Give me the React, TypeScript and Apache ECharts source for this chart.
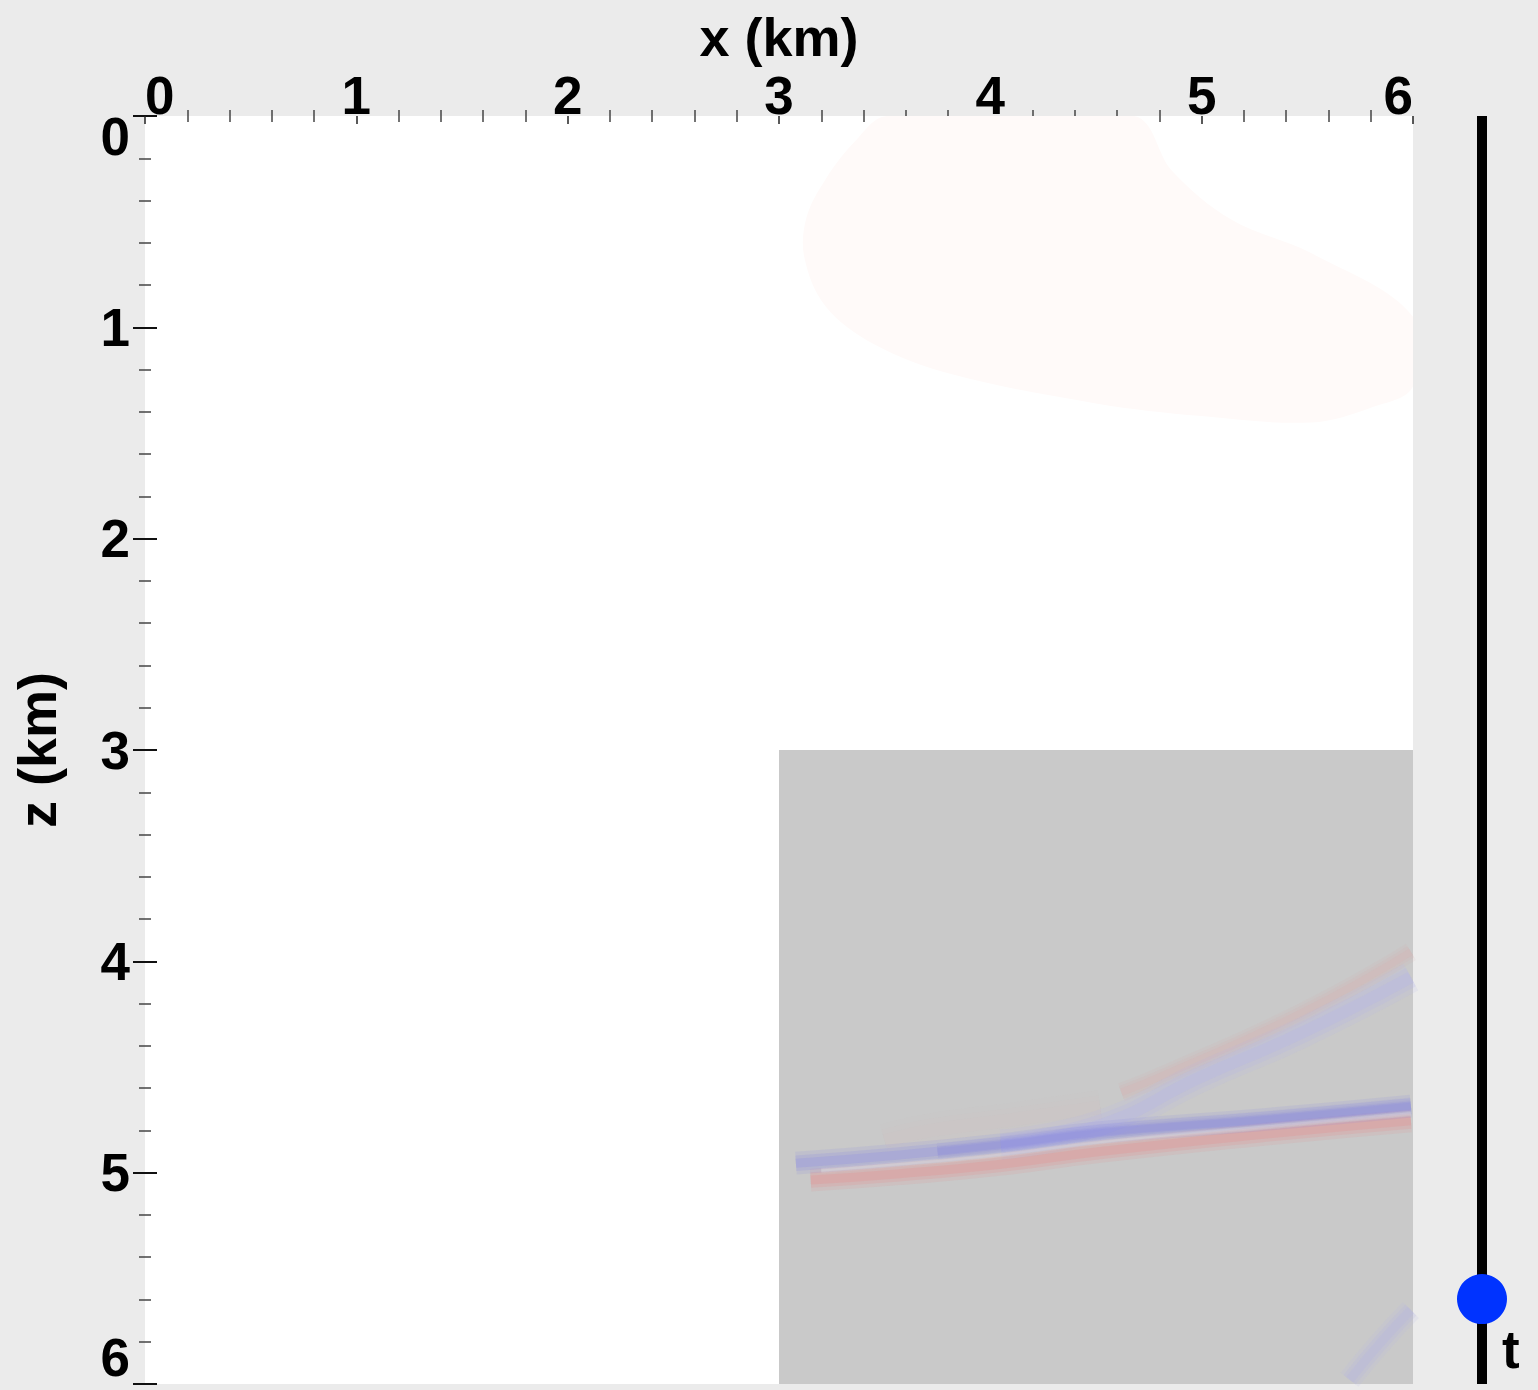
import React, { useEffect, useRef } from "react";
import * as echarts from "echarts";

// Axis ranges / ticks (km)
const xRange = [0, 6];
const zRange = [0, 6];
const tickInterval = 1;

// Gray computational sub-region [x0, z0, x1, z1]
const subRegion = [[3, 3, 6, 6]];

// Faint pink blob outline (x km, z km)
const blobX = [3.51, 4.68, 4.86, 5.14, 5.52, 6.0, 6.0, 5.8, 5.52, 5.0, 4.5, 3.81, 3.45, 3.22, 3.12, 3.13, 3.22, 3.36];
const blobZ = [0.0, 0.0, 0.26, 0.49, 0.65, 0.95, 1.28, 1.38, 1.45, 1.42, 1.36, 1.22, 1.08, 0.9, 0.67, 0.48, 0.3, 0.12];

// Wavefront bands (x km, z km)
const mainBlueX = [3.08, 3.57, 4.05, 4.52, 5.28, 5.99];
const mainBlueZ = [4.955, 4.916, 4.868, 4.81, 4.75, 4.685];
const mainBlueCoreX = [3.75, 4.05, 4.52, 5.28, 5.99];
const mainBlueCoreZ = [4.9, 4.868, 4.81, 4.75, 4.685];
const gapX = [3.2, 3.57, 4.05, 4.52, 5.28, 5.99];
const gapZ = [4.99, 4.96, 4.915, 4.855, 4.785, 4.72];
const mainRedX = [3.15, 3.57, 4.05, 4.52, 5.28, 5.99];
const mainRedZ = [5.035, 5.005, 4.96, 4.9, 4.82, 4.755];
const upperBlueX = [4.05, 4.52, 4.99, 5.47, 5.99];
const upperBlueZ = [4.868, 4.775, 4.55, 4.34, 4.075];
const upperRedX = [4.62, 4.84, 5.47, 5.99];
const upperRedZ = [4.62, 4.53, 4.245, 3.955];
const hazeRedX = [3.5, 3.72, 4.1, 4.52];
const hazeRedZ = [4.85, 4.8, 4.75, 4.69];
const cornerBlueX = [5.7, 5.85, 5.99];
const cornerBlueZ = [5.98, 5.8, 5.65];

const sliderValue = 0.933; // fraction of time axis (top = 0)

const FONT = "'Liberation Sans', Arial, Helvetica, sans-serif";

const zip = (xs: number[], zs: number[]) => xs.map((x, i) => [x, zs[i]]);

export default function App() {
  const ref = useRef<HTMLDivElement>(null);
  useEffect(() => {
    if (!ref.current) return;
    const chart = echarts.init(ref.current, undefined, { renderer: "svg" });
    const gridLeft = 145, gridTop = 116, gridW = 1268, gridH = 1268;

    const labelStyle = {
      fontSize: 53,
      fontWeight: "bold" as const,
      color: "#000",
      fontFamily: FONT,
    };
    const tickCommon = {
      axisTick: { show: true, inside: false, length: 12, lineStyle: { color: "#111", width: 2 } },
      minorTick: { show: true, splitNumber: 5, length: 6, lineStyle: { color: "#444", width: 1.5 } },
      splitLine: { show: false },
      minorSplitLine: { show: false },
      axisLine: { show: false },
    };

    // soft band: three stacked strokes of decreasing width
    const band = (xs: number[], zs: number[], rgb: string, a: number, width: number, z: number) =>
      [
        [1.9, 0.3],
        [1.3, 0.4],
        [0.75, 0.5],
      ].map(([wf, af]) => ({
        type: "line",
        data: zip(xs, zs),
        smooth: true,
        symbol: "none",
        clip: true,
        z,
        silent: true,
        lineStyle: { color: `rgba(${rgb},${(a * af).toFixed(3)})`, width: width * wf, cap: "butt", join: "round" },
      }));

    const sliderX = 1482;
    const sliderY = gridTop + sliderValue * gridH;

    chart.setOption({
      animation: false,
      backgroundColor: "#ebebeb",
      grid: {
        left: gridLeft,
        top: gridTop,
        width: gridW,
        height: gridH,
        show: true,
        backgroundColor: "#ffffff",
        borderWidth: 0,
        containLabel: false,
        outerBoundsMode: "none",
      },
      xAxis: [
        {
          type: "value",
          position: "top",
          min: xRange[0],
          max: xRange[1],
          interval: tickInterval,
          ...tickCommon,
          axisTick: { show: false },
          axisLabel: { ...labelStyle, lineHeight: 42, margin: 0, alignMinLabel: "left", alignMaxLabel: "right" },
          name: "x (km)",
          nameLocation: "middle",
          nameGap: 50,
          nameTextStyle: { ...labelStyle, fontSize: 54 },
        },
        {
          type: "value",
          position: "bottom",
          min: xRange[0],
          max: xRange[1],
          interval: tickInterval,
          ...tickCommon,
          axisTick: { show: true, inside: false, length: 8, lineStyle: { color: "#222", width: 1.5 } },
          axisLabel: { show: false },
        },
      ],
      yAxis: [
        {
          type: "value",
          position: "left",
          inverse: true,
          min: zRange[0],
          max: zRange[1],
          interval: tickInterval,
          ...tickCommon,
          axisLabel: {
            ...labelStyle,
            margin: 15,
            verticalAlignMinLabel: "top",
            verticalAlignMaxLabel: "bottom",
            formatter: (v: number) => (v === zRange[0] ? `{first|${v}}` : `${v}`),
            rich: {
              first: { ...labelStyle, lineHeight: 40 },
            },
          },
          name: "z (km)",
          nameLocation: "middle",
          nameRotate: 90,
          nameGap: 81,
          nameTextStyle: { ...labelStyle, fontSize: 54 },
        },
        {
          type: "value",
          position: "right",
          inverse: true,
          min: zRange[0],
          max: zRange[1],
          interval: tickInterval,
          ...tickCommon,
          axisLabel: { show: false },
        },
      ],
      series: [
        {
          type: "custom",
          z: 1,
          silent: true,
          clip: true,
          data: [0],
          renderItem: (_p: any, api: any) => ({
            type: "polygon",
            shape: { points: zip(blobX, blobZ).map((p) => api.coord(p)), smooth: 0.35 },
            style: { fill: "#fffaf9" },
          }),
        },
        {
          type: "custom",
          z: 2,
          silent: true,
          clip: true,
          data: subRegion,
          renderItem: (_p: any, api: any) => {
            const a = api.coord([api.value(0), api.value(1)]);
            const b = api.coord([api.value(2), api.value(3)]);
            return {
              type: "rect",
              shape: { x: a[0], y: a[1], width: b[0] - a[0], height: b[1] - a[1] },
              style: { fill: "#c9c9c9" },
            };
          },
        },
        ...band(hazeRedX, hazeRedZ, "215,185,185", 0.15, 18, 3),
        ...band(upperRedX, upperRedZ, "220,170,170", 0.35, 10, 3),
        ...band(upperBlueX, upperBlueZ, "180,180,235", 0.5, 16, 4),
        ...band(cornerBlueX, cornerBlueZ, "180,180,230", 0.45, 12, 4),
        ...band(mainRedX, mainRedZ, "230,140,140", 0.5, 12, 4),
        ...band(mainBlueX, mainBlueZ, "130,130,230", 0.42, 12, 5),
        ...band(mainBlueCoreX, mainBlueCoreZ, "120,120,225", 0.22, 9, 6),
        ...band(gapX, gapZ, "225,225,228", 0.45, 3, 7),
      ],
      graphic: [
        {
          type: "line",
          shape: { x1: sliderX, y1: gridTop, x2: sliderX, y2: gridTop + gridH },
          style: { stroke: "#000", lineWidth: 10 },
          z: 10,
        },
        {
          type: "circle",
          shape: { cx: sliderX, cy: sliderY, r: 25 },
          style: { fill: "#0033ff" },
          z: 11,
        },
        {
          type: "text",
          x: 1502,
          y: 1376,
          style: {
            text: "t",
            fontSize: 53,
            fontWeight: "bold",
            fontFamily: FONT,
            fill: "#000",
            textVerticalAlign: "bottom",
            verticalAlign: "bottom",
          },
          z: 11,
        },
      ],
    });
    return () => chart.dispose();
  }, []);
  return (
    <div
      ref={ref}
      style={{ position: "absolute", left: 0, top: 0, width: 1538, height: 1390 }}
    />
  );
}
